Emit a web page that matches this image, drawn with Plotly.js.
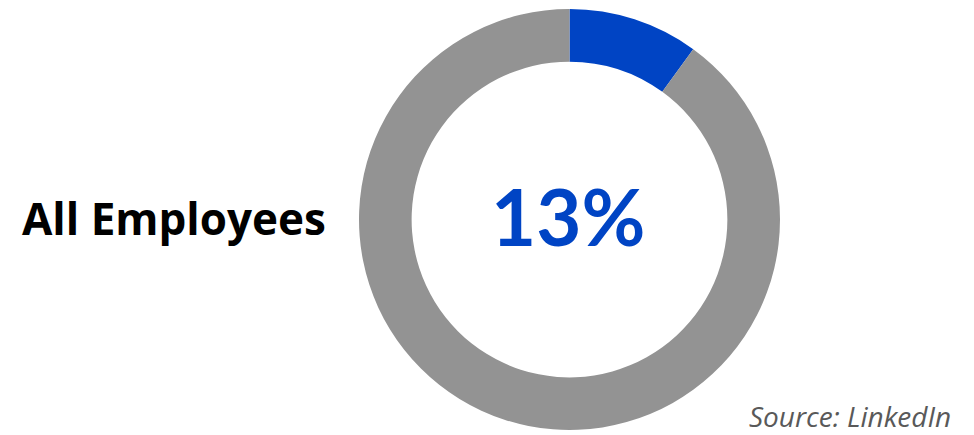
<!DOCTYPE html>
<html>
<head>
<meta charset="utf-8">
<script src="https://cdn.plot.ly/plotly-3.0.1.min.js"></script>
<style>html,body{margin:0;padding:0;background:#fff;}#chart{width:974px;height:435px;}</style>
</head>
<body>
<div id="chart"></div>
<script>
const categories = ["All Employees share", "Remainder"];
const values = [10, 90];
const centerLabel = "13%";
const rowLabel = "All Employees";
const sourceText = "Source: LinkedIn";

const W = 974, H = 435;
const px = x => x / W;
const py = y => 1 - y / H;

const data = [{
  type: "pie",
  labels: categories,
  values: values,
  hole: 0.75,
  sort: false,
  direction: "clockwise",
  rotation: 0,
  textinfo: "none",
  hoverinfo: "none",
  marker: {colors: ["#0044C4", "#939393"], line: {width: 0}},
  domain: {x: [px(359), px(780)], y: [py(430), py(9)]},
  showlegend: false
}];

const layout = {
  width: W, height: H,
  margin: {l: 0, r: 0, t: 0, b: 0},
  paper_bgcolor: "#ffffff",
  showlegend: false,
  annotations: [
    {text: "<b>" + centerLabel + "</b>", x: px(568), y: py(216), xref: "paper", yref: "paper",
     xanchor: "center", yanchor: "middle", showarrow: false,
     font: {family: "Lato", size: 78, color: "#0044C4"}},
    {text: "<b>" + rowLabel + "</b>", x: px(20), y: py(218), xref: "paper", yref: "paper",
     xanchor: "left", yanchor: "middle", showarrow: false,
     font: {family: "Open Sans", size: 44, color: "#000000"}},
    {text: "<i>" + sourceText + "</i>", x: px(952), y: py(436), xref: "paper", yref: "paper",
     xanchor: "right", yanchor: "bottom", showarrow: false, borderpad: 0,
     font: {family: "Open Sans", size: 28, color: "#595959"}}
  ]
};

Plotly.newPlot("chart", data, layout, {staticPlot: true, displayModeBar: false});
</script>
</body>
</html>
